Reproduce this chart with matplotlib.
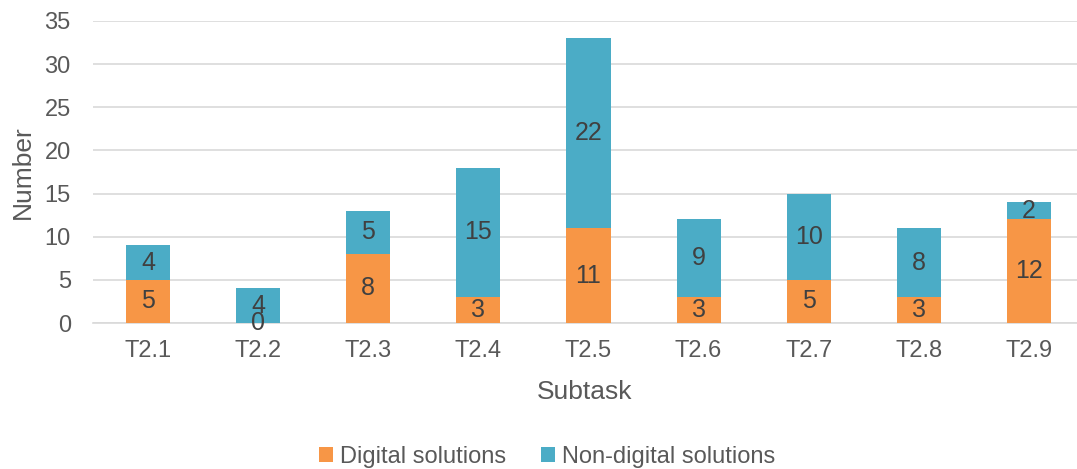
import matplotlib.pyplot as plt
import numpy as np

subtasks = ["T2.1", "T2.2", "T2.3", "T2.4", "T2.5", "T2.6", "T2.7", "T2.8", "T2.9"]
digital = [5, 0, 8, 3, 11, 3, 5, 3, 12]
non_digital = [4, 4, 5, 15, 22, 9, 10, 8, 2]

plt.rcParams['font.family'] = ['Liberation Sans', 'DejaVu Sans']

fig = plt.figure(figsize=(10.77, 4.69), dpi=100)
ax = fig.add_axes([93 / 1077, 146 / 469, 984 / 1077, 302 / 469])

x = np.arange(len(subtasks))
b1 = ax.bar(x, digital, width=0.4, color='#F79646', label='Digital solutions', zorder=3)
b2 = ax.bar(x, non_digital, width=0.4, bottom=digital, color='#4BACC6',
            label='Non-digital solutions', zorder=3)

ax.bar_label(b1, label_type='center', fontsize=18, color='#404040')
ax.bar_label(b2, label_type='center', fontsize=18, color='#404040')

ax.set_xlim(-0.5, 8.5 - 7 / 110)
ax.set_ylim(0, 35)
ax.set_yticks(range(0, 36, 5))
ax.set_xticks(x)
ax.set_xticklabels(subtasks)
ax.tick_params(length=0, labelsize=17, labelcolor='#595959')
ax.tick_params(axis='x', pad=12)
ax.tick_params(axis='y', pad=16)

ax.grid(axis='y', color='#D9D9D9', linewidth=1.2, zorder=0)
for s in ['top', 'right', 'left']:
    ax.spines[s].set_visible(False)
ax.spines['bottom'].set_color('#D9D9D9')
ax.spines['bottom'].set_linewidth(1.2)

ax.set_xlabel("Subtask", fontsize=19, color='#595959', labelpad=13)
ax.set_ylabel("Number", fontsize=19, color='#595959', labelpad=7)

fig.legend(loc='lower center', bbox_to_anchor=(0.508, -0.043), ncol=2, frameon=False,
           fontsize=17, labelcolor='#595959', handlelength=0.6, handleheight=0.6,
           handletextpad=0.3, columnspacing=1.45)

fig.savefig("out.png", dpi=100)
